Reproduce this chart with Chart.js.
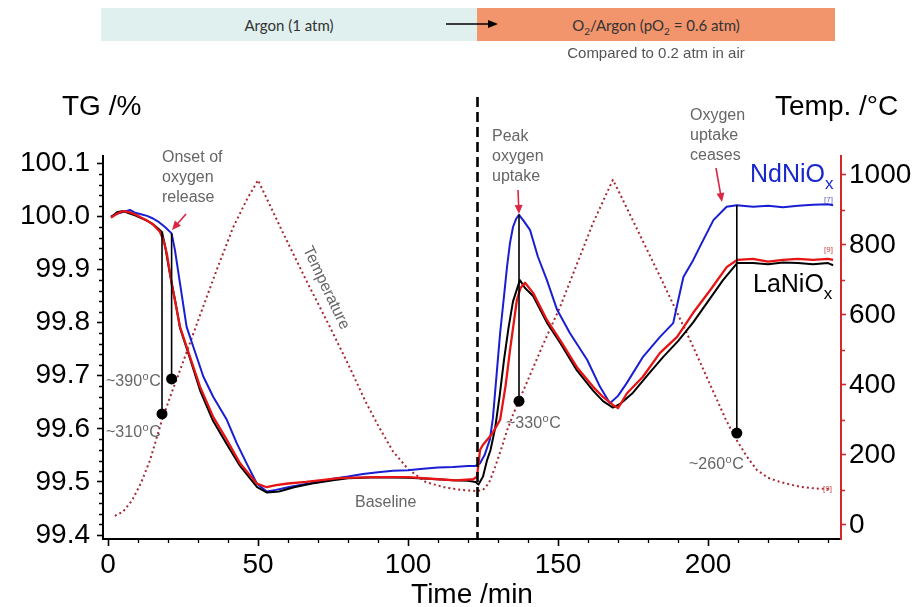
<!DOCTYPE html>
<html>
<head>
<meta charset="utf-8">
<title>TG oxígeno NdNiOx / LaNiOx</title>
<script src="https://cdn.jsdelivr.net/npm/chart.js@4.4.1/dist/chart.umd.min.js"></script>
<style>
    html, body { margin: 0; padding: 0; background: #fff; }
    #wrap { position: relative; width: 921px; height: 607px; overflow: hidden; }
    #grafico { position: absolute; left: 0; top: 0; }
    .banda {
        position: absolute; top: 8px; height: 33px;
        display: flex; align-items: center; justify-content: center;
        font-family: Lato, 'Open Sans', sans-serif; font-size: 15px; color: #333;
    }
    .banda sub { font-size: 10px; vertical-align: baseline; position: relative; top: 4px; }
    #nota {
        position: absolute; left: 477px; width: 358px; top: 44px; text-align: center;
        font-family: 'Liberation Sans', Arial, sans-serif; font-size: 15px; color: #555;
    }
</style>
</head>
<body>
<div id="wrap">
    <canvas id="grafico" width="921" height="607"></canvas>
    <div class="banda" style="left:101px;width:376px;background:#dff0ee;"><span>Argon (1 atm)</span></div>
    <div class="banda" style="left:477px;width:358px;background:#f2946c;"><span>O<sub>2</sub>/Argon (pO<sub>2</sub> = 0.6 atm)</span></div>
    <svg style="position:absolute;left:440px;top:16px;" width="70" height="16">
        <line x1="6" y1="8" x2="50" y2="8" stroke="#000" stroke-width="1.6"/>
        <polygon points="58,8 48,4 48,12" fill="#000"/>
    </svg>
    <div id="nota">Compared to 0.2 atm in air</div>
</div>
<script>
// Datos (tiempo en min, TG en %, temperatura en °C)
const ndTiempo = [1, 3, 5, 7.3, 9, 11, 13, 15, 17, 19, 21.2, 22.3, 24, 26.2, 28.4, 31.8, 35.1, 39.6, 42.9, 46.2,
    49.6, 52.9, 56, 60, 65, 70, 75, 80, 85, 90, 95, 100, 105, 110, 115, 120, 122.5, 124, 125.5, 127.3,
    128.3, 129.5, 130.7, 132, 133, 134, 135, 136, 137, 138.5, 140.7, 143.3, 146.3, 149.7, 154, 159.7, 164, 167.3, 170, 172.9,
    178.4, 184, 188.4, 190.1, 191.8, 195.1, 197.3, 201.8, 206.2, 209.6, 215, 220, 225, 230, 235, 240, 241.7];
const ndTG = [100.000, 100.005, 100.008, 100.012, 100.007, 100.004, 100.001, 99.996, 99.989, 99.980,
    99.968, 99.937, 99.874, 99.792, 99.755, 99.698, 99.660, 99.617, 99.573, 99.535,
    99.497, 99.482, 99.485, 99.490, 99.495, 99.500, 99.506, 99.510, 99.515, 99.518,
    99.521, 99.522, 99.525, 99.527, 99.528, 99.530, 99.530, 99.535, 99.550, 99.580,
    99.620, 99.700, 99.780, 99.850, 99.905, 99.950, 99.980, 99.995, 100.003, 99.992,
    99.974, 99.924, 99.880, 99.824, 99.780, 99.730, 99.679, 99.648, 99.662, 99.686,
    99.736, 99.773, 99.799, 99.843, 99.886, 99.918, 99.943, 99.993, 100.018, 100.021,
    100.018, 100.020, 100.017, 100.020, 100.022, 100.023, 100.021];

const laTiempo = [1, 3, 5, 7, 9, 11, 13, 15, 16.5, 18, 19, 20, 21.2, 22.5, 24, 27.3, 30.7, 35, 39.7, 44,
    49.7, 53, 57, 62, 68, 75, 80, 90, 100, 110, 115, 120, 122.5, 123.5, 125, 126.3, 127.5, 129, 130.5, 132,
    133.5, 135, 137.3, 139, 141.7, 146.3, 150.7, 156.3, 161.7, 165, 168.3, 171, 175, 180, 185, 190, 195, 200, 205, 209.7,
    215, 220, 225, 230, 235, 240, 241.7];
const laTG = [99.998, 100.008, 100.010, 100.006, 100.002, 99.997, 99.992, 99.985, 99.978, 99.970,
    99.945, 99.912, 99.875, 99.838, 99.790, 99.733, 99.672, 99.615, 99.570, 99.530,
    99.490, 99.480, 99.482, 99.490, 99.497, 99.503, 99.507, 99.509, 99.508, 99.505,
    99.503, 99.502, 99.500, 99.495, 99.510, 99.540, 99.560, 99.600, 99.660, 99.730,
    99.790, 99.840, 99.880, 99.865, 99.850, 99.800, 99.762, 99.710, 99.672, 99.652,
    99.640, 99.648, 99.668, 99.702, 99.735, 99.765, 99.800, 99.840, 99.880, 99.912,
    99.912, 99.910, 99.913, 99.912, 99.910, 99.912, 99.908];

const la2Tiempo = [1, 3, 5, 7, 9, 11, 13, 15, 17.3, 18.5, 19.6, 21.2, 24, 27.3, 30.7, 35.1, 39.6, 44, 49.6, 52.9,
    56, 60, 66, 77, 88, 100, 110, 116, 121.7, 123, 124, 125, 128, 130.7, 132.5, 134, 136.3, 137.5, 139, 141.7,
    146.3, 150.7, 156.3, 161.7, 165, 168.3, 170, 173, 178.3, 184, 189.7, 195, 200.7, 206.3, 209.7, 215, 220, 225, 230, 235,
    240, 241.7];
const la2TG = [99.998, 100.005, 100.010, 100.008, 100.004, 99.998, 99.992, 99.985, 99.971, 99.955,
    99.930, 99.874, 99.792, 99.736, 99.679, 99.622, 99.579, 99.535, 99.497, 99.490,
    99.494, 99.497, 99.500, 99.507, 99.509, 99.509, 99.505, 99.503, 99.505, 99.510,
    99.560, 99.570, 99.590, 99.617, 99.680, 99.748, 99.843, 99.865, 99.875, 99.856,
    99.805, 99.767, 99.716, 99.679, 99.660, 99.645, 99.639, 99.667, 99.698, 99.743,
    99.773, 99.818, 99.861, 99.905, 99.918, 99.920, 99.915, 99.918, 99.920, 99.918,
    99.920, 99.918];

const tempTiempo = [2.3, 5, 8, 11, 14, 18, 21.3, 25, 30.7, 36.3, 41.7, 46.3, 50, 58.3, 66, 74, 80, 86, 90, 95,
    100, 106, 113, 118, 123, 125, 127, 129, 131, 133, 135, 137, 140, 145, 150.7, 161.7, 168.3, 170, 184, 195,
    206, 209.3, 213, 216.3, 220, 224, 230.7, 236, 240.7];
const tempValor = [26, 38, 70, 120, 185, 300, 380, 465, 600, 730, 850, 930, 985, 835, 700, 565, 460, 350, 285, 210,
    160, 122, 106, 100, 97, 100, 120, 165, 215, 270, 315, 355, 415, 515, 623, 863, 986, 957, 710, 510,
    300, 246, 195, 157, 135, 123, 109, 104, 103];

// Marcas verticales: tiempo, TG arriba (curva) y TG del punto (sobre la temperatura)
const marcaTiempo = [18, 21.2, 137, 209.6];
const marcaArriba = [99.971, 99.968, 100.003, 100.021];
const marcaPunto = [99.628, 99.694, 99.652, 99.592];
const cambioGas = 123;

// Etiquetas de los ejes
const xTicks = [0, 50, 100, 150, 200];
const tgTicks = [99.4, 99.5, 99.6, 99.7, 99.8, 99.9, 100.0, 100.1];
const tempTicks = [0, 200, 400, 600, 800, 1000];

const ROJO_EJE = 'rgb(210,40,40)';
const ROJO_FLECHA = 'rgb(215,40,70)';
const GRIS = '#666';

document.addEventListener('DOMContentLoaded', () => {
    Chart.defaults.font.family = "'Liberation Sans', Arial, sans-serif";
    crearGrafico();
});

// Función para unir dos listas en puntos {x, y}
function puntos(tiempos, valores) {
    return tiempos.map((t, i) => ({ x: t, y: valores[i] }));
}

// Función para escribir temperaturas con la "o" volada
function textoGrados(ctx, numero, x, y) {
    ctx.font = "16px 'Liberation Sans', Arial";
    ctx.fillText(numero, x, y);
    let w = ctx.measureText(numero).width;
    ctx.font = "11px 'Liberation Sans', Arial";
    ctx.fillText('o', x + w + 0.5, y - 6);
    w += ctx.measureText('o').width + 1;
    ctx.font = "16px 'Liberation Sans', Arial";
    ctx.fillText('C', x + w, y);
}

// Función para dibujar una flecha
function flecha(ctx, x1, y1, x2, y2) {
    const ang = Math.atan2(y2 - y1, x2 - x1);
    ctx.beginPath();
    ctx.moveTo(x1, y1);
    ctx.lineTo(x2 - 5 * Math.cos(ang), y2 - 5 * Math.sin(ang));
    ctx.stroke();
    ctx.beginPath();
    ctx.moveTo(x2, y2);
    ctx.lineTo(x2 - 9 * Math.cos(ang) + 4 * Math.sin(ang), y2 - 9 * Math.sin(ang) - 4 * Math.cos(ang));
    ctx.lineTo(x2 - 9 * Math.cos(ang) - 4 * Math.sin(ang), y2 - 9 * Math.sin(ang) + 4 * Math.cos(ang));
    ctx.closePath();
    ctx.fill();
}

// Plugin para las marcas menores de los ejes
const ticksMenores = {
    id: 'ticksMenores',
    beforeDatasetsDraw(chart) {
        const { ctx, chartArea, scales } = chart;
        ctx.save();
        ctx.lineWidth = 1.3;
        ctx.strokeStyle = '#000';
        ctx.beginPath();
        for (let v = 10; v <= 240; v += 10) {
            if (v % 50 === 0) continue;
            const px = Math.round(scales.x.getPixelForValue(v)) + 0.5;
            ctx.moveTo(px, chartArea.bottom);
            ctx.lineTo(px, chartArea.bottom + 4);
        }
        for (let i = 1; i < 35; i++) {
            if (i % 5 === 0) continue;
            const py = Math.round(scales.y.getPixelForValue(99.4 + i * 0.02)) + 0.5;
            ctx.moveTo(chartArea.left - 4, py);
            ctx.lineTo(chartArea.left, py);
        }
        ctx.stroke();
        ctx.strokeStyle = ROJO_EJE;
        ctx.beginPath();
        for (let v = 100; v <= 1000; v += 200) {
            const py = Math.round(scales.y2.getPixelForValue(v)) + 0.5;
            ctx.moveTo(chartArea.right, py);
            ctx.lineTo(chartArea.right + 4, py);
        }
        ctx.stroke();
        ctx.restore();
    }
};

// Plugin para textos, flechas y la línea del cambio de gas
const anotaciones = {
    id: 'anotaciones',
    afterDatasetsDraw(chart) {
        const { ctx, chartArea, scales } = chart;
        ctx.save();

        // Línea discontinua del cambio Argon -> O2/Argon
        const xc = Math.round(scales.x.getPixelForValue(cambioGas)) + 0.5;
        ctx.strokeStyle = '#000';
        ctx.lineWidth = 2.6;
        ctx.setLineDash([10, 5]);
        ctx.beginPath();
        ctx.moveTo(xc, 97);
        ctx.lineTo(xc, chartArea.bottom);
        ctx.stroke();
        ctx.setLineDash([]);

        // Títulos de ejes
        ctx.fillStyle = '#000';
        ctx.textBaseline = 'alphabetic';
        ctx.font = "28px 'Liberation Sans', Arial";
        ctx.textAlign = 'left';
        ctx.fillText('TG /%', 62, 115);
        ctx.fillText('Temp. /°C', 775, 115);
        ctx.textAlign = 'center';
        ctx.fillText('Time /min', (chartArea.left + chartArea.right) / 2, 603);

        // Textos grises
        ctx.textAlign = 'left';
        ctx.fillStyle = GRIS;
        ctx.font = "16px 'Liberation Sans', Arial";
        ['Onset of', 'oxygen', 'release'].forEach((t, i) => ctx.fillText(t, 162, 162 + i * 20));
        ['Peak', 'oxygen', 'uptake'].forEach((t, i) => ctx.fillText(t, 492, 141 + i * 20));
        ['Oxygen', 'uptake', 'ceases'].forEach((t, i) => ctx.fillText(t, 690, 120 + i * 20));
        ctx.fillText('Baseline', 355, 507);
        textoGrados(ctx, '~390', 106, 386);
        textoGrados(ctx, '~310', 106, 437);
        textoGrados(ctx, '~330', 506, 428);
        textoGrados(ctx, '~260', 689, 469);

        // Texto girado de la temperatura
        ctx.save();
        ctx.translate(326, 288);
        ctx.rotate(64.5 * Math.PI / 180);
        ctx.textAlign = 'center';
        ctx.textBaseline = 'middle';
        ctx.font = "16px 'Liberation Sans', Arial";
        ctx.fillText('Temperature', 0, 0);
        ctx.restore();

        // Flechas rojas
        ctx.strokeStyle = ROJO_FLECHA;
        ctx.fillStyle = ROJO_FLECHA;
        ctx.lineWidth = 1.6;
        flecha(ctx, 186, 214, 172, 230);
        flecha(ctx, 518, 190, 519, 214);
        flecha(ctx, 716, 168, 722, 202);

        // Nombres de las muestras
        ctx.font = "25px 'Liberation Sans', Arial";
        ctx.fillStyle = 'rgb(25,40,205)';
        ctx.fillText('NdNiO', 750, 182);
        let w = ctx.measureText('NdNiO').width;
        ctx.font = "17px 'Liberation Sans', Arial";
        ctx.fillText('x', 750 + w, 189);
        ctx.font = "25px 'Liberation Sans', Arial";
        ctx.fillStyle = '#000';
        ctx.fillText('LaNiO', 753, 292);
        w = ctx.measureText('LaNiO').width;
        ctx.font = "17px 'Liberation Sans', Arial";
        ctx.fillText('x', 753 + w, 299);

        // Referencias pequeñas al final de las curvas
        ctx.font = "8px 'Liberation Sans', Arial";
        ctx.fillStyle = 'rgb(90,90,200)';
        ctx.fillText('[7]', 824, 202);
        ctx.fillStyle = 'rgb(200,70,70)';
        ctx.fillText('[9]', 824, 252);
        ctx.fillText('[9]', 823, 491);

        ctx.restore();
    }
};

// Función para crear el gráfico
function crearGrafico() {
    const ctx = document.getElementById('grafico').getContext('2d');

    const marcadores = marcaTiempo.map((t, i) => ({
        data: [{ x: t, y: marcaArriba[i] }, { x: t, y: marcaPunto[i] }],
        yAxisID: 'y',
        borderColor: '#000',
        borderWidth: 1.6,
        pointRadius: [0, 5.5],
        pointBackgroundColor: '#000',
        pointBorderWidth: 0
    }));

    const lineaBase = { pointRadius: 0, tension: 0, fill: false, borderJoinStyle: 'round' };

    new Chart(ctx, {
        type: 'line',
        data: {
            datasets: [
                ...marcadores,
                { ...lineaBase, label: 'LaNiOx (2)', data: puntos(la2Tiempo, la2TG), yAxisID: 'y', borderColor: 'rgb(230,20,20)', borderWidth: 2.3 },
                { ...lineaBase, label: 'LaNiOx', data: puntos(laTiempo, laTG), yAxisID: 'y', borderColor: '#000', borderWidth: 2 },
                { ...lineaBase, label: 'NdNiOx', data: puntos(ndTiempo, ndTG), yAxisID: 'y', borderColor: 'rgb(25,30,210)', borderWidth: 2 },
                { ...lineaBase, label: 'Temperature', data: puntos(tempTiempo, tempValor), yAxisID: 'y2', borderColor: 'rgb(165,40,50)', borderWidth: 2, borderDash: [2, 3] }
            ]
        },
        options: {
            responsive: false,
            animation: false,
            layout: { padding: { top: 156, left: 0, right: 0, bottom: 0 } },
            plugins: { legend: { display: false }, tooltip: { enabled: false } },
            scales: {
                x: {
                    type: 'linear', min: -1.67, max: 244.33,
                    afterBuildTicks: s => { s.ticks = xTicks.map(v => ({ value: v })); },
                    afterFit: s => { s.height = 68; },
                    ticks: { color: '#000', font: { size: 28 }, padding: 2, maxRotation: 0, autoSkip: false, callback: v => String(v) },
                    grid: { drawOnChartArea: false, tickLength: 7, tickWidth: 1.6, tickColor: '#000' },
                    border: { color: '#000', width: 2 }
                },
                y: {
                    position: 'left', min: 99.3925, max: 100.1137,
                    afterBuildTicks: s => { s.ticks = tgTicks.map(v => ({ value: v })); },
                    afterFit: s => { s.width = 103; },
                    ticks: { color: '#000', font: { size: 28 }, padding: 7, callback: v => v.toFixed(1) },
                    grid: { drawOnChartArea: false, tickLength: 6, tickWidth: 1.6, tickColor: '#000' },
                    border: { color: '#000', width: 2 }
                },
                y2: {
                    position: 'right', min: -40, max: 1054,
                    afterBuildTicks: s => { s.ticks = tempTicks.map(v => ({ value: v })); },
                    afterFit: s => { s.width = 80; },
                    ticks: { color: '#000', font: { size: 28 }, padding: 3, callback: v => String(v) },
                    grid: { drawOnChartArea: false, tickLength: 5, tickWidth: 1.6, tickColor: ROJO_EJE },
                    border: { color: ROJO_EJE, width: 2 }
                }
            }
        },
        plugins: [ticksMenores, anotaciones]
    });
}
</script>
</body>
</html>
